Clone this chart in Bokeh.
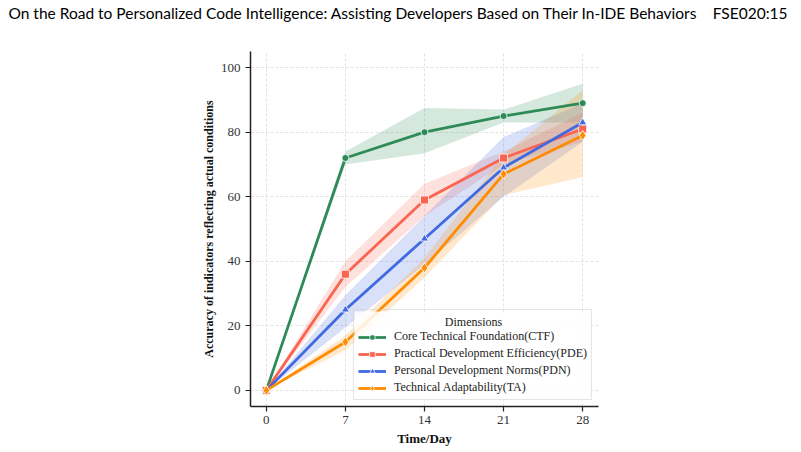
from bokeh.plotting import figure
from bokeh.layouts import column, row
from bokeh.models import (Range1d, FixedTicker, Legend, LegendItem, Label,
                          BoxAnnotation, ColumnDataSource)
from bokeh.core.properties import value
from bokeh.embed import file_html
from bokeh.resources import INLINE

# Observation days and accuracy (%) per dimension, with confidence bands
days = [0, 7, 14, 21, 28]

ctf = [0, 72, 80, 85, 89]
ctf_lo = [0, 70, 73.5, 83, 83]
ctf_hi = [0, 74, 87.5, 87, 95]

pde = [0, 36, 59, 72, 81]
pde_lo = [0, 32, 54, 70, 77]
pde_hi = [0, 40, 64, 74, 86]

pdn = [0, 25, 47, 69, 83]
pdn_lo = [0, 19.5, 39, 60, 77]
pdn_hi = [0, 29.5, 54, 78.5, 89]

ta = [0, 15, 38, 67, 79]
ta_lo = [0, 12.5, 35, 60.5, 66]
ta_hi = [0, 17, 41, 73, 93]

series_names = [
    "Core Technical Foundation(CTF)",
    "Practical Development Efficiency(PDE)",
    "Personal Development Norms(PDN)",
    "Technical Adaptability(TA)",
]
x_ticks = [0, 7, 14, 21, 28]
y_ticks = [0, 20, 40, 60, 80, 100]

header_left = "On the Road to Personalized Code Intelligence: Assisting Developers Based on Their In-IDE Behaviors"
header_right = "FSE020:15"

colors = ["#2e8b57", "#fa6450", "#4169e1", "#ff8c00"]
markers = ["circle", "square", "triangle", "diamond"]
marker_sizes = [7, 8, 8, 10]

SERIF = "Liberation Serif"
HEAD_H = 30

# --- running page header -------------------------------------------------
head = figure(
    width=801, height=HEAD_H, output_backend="svg", toolbar_location=None,
    x_range=Range1d(0, 801), y_range=Range1d(0, HEAD_H),
    min_border=0, min_border_left=0, min_border_right=0,
    min_border_top=0, min_border_bottom=0,
)
head.axis.visible = False
head.grid.visible = False
head.outline_line_color = None
head.text(x=[8], y=[HEAD_H - 12], text=[header_left],
          text_font=value("Lato"), text_font_size="15.5px",
          text_align="left", text_baseline="middle", text_color="#000000")
head.text(x=[787], y=[HEAD_H - 12], text=[header_right],
          text_font=value("Lato"), text_font_size="15.5px",
          text_align="right", text_baseline="middle", text_color="#000000")

# --- main chart ----------------------------------------------------------
p = figure(
    width=801, height=452 - HEAD_H,
    output_backend="svg", toolbar_location=None,
    x_range=Range1d(-1.4, 29.4), y_range=Range1d(-5, 105),
    min_border_left=250, min_border_right=203,
    min_border_top=51 - HEAD_H, min_border_bottom=46,
)
p.outline_line_color = None
p.background_fill_color = "white"
p.border_fill_color = "white"

for ax in (p.xaxis[0], p.yaxis[0]):
    ax.axis_line_color = "#222222"
    ax.axis_line_width = 1.5
    ax.major_tick_line_color = "#222222"
    ax.major_tick_line_width = 1.2
    ax.major_tick_out = 5
    ax.major_tick_in = 0
    ax.minor_tick_out = 0
    ax.minor_tick_in = 0
    ax.major_label_text_font = SERIF
    ax.major_label_text_font_size = "13px"
    ax.major_label_text_color = "#333333"
    ax.axis_label_text_font = SERIF
    ax.axis_label_text_font_style = "bold"
    ax.axis_label_text_color = "#111111"

p.xaxis.ticker = FixedTicker(ticks=x_ticks)
p.yaxis.ticker = FixedTicker(ticks=y_ticks)
p.xaxis.axis_label = "Time/Day"
p.yaxis.axis_label = "Accuracy of indicators reflecting actual conditions"
p.xaxis.axis_label_text_font_size = "13px"
p.yaxis.axis_label_text_font_size = "12px"
p.xaxis.major_label_standoff = 4
p.yaxis.major_label_standoff = 5
p.xaxis.axis_label_standoff = 4
p.yaxis.axis_label_standoff = 2

for g in (p.xgrid[0], p.ygrid[0]):
    g.grid_line_color = "#dcdcdc"
    g.grid_line_dash = "3 2"
    g.grid_line_width = 0.8

vals = [ctf, pde, pdn, ta]
los = [ctf_lo, pde_lo, pdn_lo, ta_lo]
his = [ctf_hi, pde_hi, pdn_hi, ta_hi]

# confidence bands underneath all lines
for lo, hi, c in zip(los, his, colors):
    src = ColumnDataSource(dict(x=days, lo=lo, hi=hi))
    p.varea(x="x", y1="lo", y2="hi", source=src, fill_color=c, fill_alpha=0.2)

items = []
for name, v, c, m, ms in zip(series_names, vals, colors, markers, marker_sizes):
    src = ColumnDataSource(dict(x=days, y=v))
    ln = p.line(x="x", y="y", source=src, line_color=c, line_width=2.8)
    sc = p.scatter(x="x", y="y", source=src, marker=m, size=ms,
                   fill_color=c, line_color="white", line_width=0.8)
    items.append(LegendItem(label=name, renderers=[ln, sc]))

# translucent legend panel, with a centred heading drawn above it
p.add_layout(BoxAnnotation(
    left=104, right=342, bottom=6, top=95,
    left_units="screen", right_units="screen",
    bottom_units="screen", top_units="screen",
    fill_color="white", fill_alpha=0.85, line_color=None,
))
p.add_layout(Label(
    x=223, y=85, x_units="screen", y_units="screen", text="Dimensions",
    text_font=SERIF, text_font_size="12px", text_align="center",
    text_baseline="middle", text_color="#222222",
))

legend = Legend(
    items=items, location="bottom_right",
    title=" ", title_text_font_size="12px", title_standoff=1,
    label_text_font=SERIF, label_text_font_size="12px", label_text_color="#222222",
    glyph_width=28, glyph_height=14, label_height=14, label_standoff=8,
    spacing=2, padding=4, margin=6,
    border_line_color="#cccccc", border_line_width=1,
    background_fill_alpha=0.0,
)
p.add_layout(legend)

layout = column(row(head), p, spacing=0)
open("out.html", "w").write(file_html(layout, INLINE))
